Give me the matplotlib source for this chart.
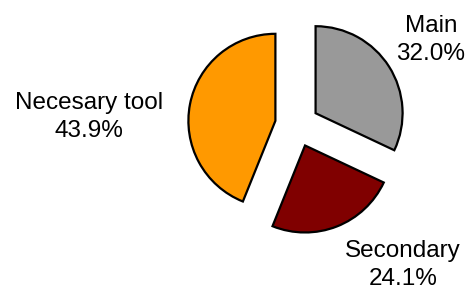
import matplotlib
matplotlib.use("Agg")
import matplotlib.pyplot as plt

categories = ["Main", "Secondary", "Necesary tool"]
values = [32.0, 24.1, 43.9]
colors = ["#999999", "#800000", "#FF9900"]

W, H = 468, 291
fig = plt.figure(figsize=(W / 100, H / 100), dpi=100)
ax = fig.add_axes([0, 0, 1, 1])

cx, cy, r = 297, H - 125, 87
ax.pie(values, colors=colors, startangle=90, counterclock=False,
       explode=[22] * 3, center=(cx, cy), radius=r,
       wedgeprops=dict(edgecolor="black", linewidth=1.6), frame=True)
ax.set_xlim(0, W)
ax.set_ylim(0, H)
ax.set_aspect("auto")
ax.axis("off")

label_pos = [(431, H - 40), (403, H - 265), (89, H - 117)]
for cat, v, (x, y) in zip(categories, values, label_pos):
    ax.text(x, y, f"{cat}\n{v:.1f}%", ha="center", va="center",
            fontsize=17.5, family=["Liberation Sans", "DejaVu Sans"],
            linespacing=1.3, color="black")

fig.savefig("out.png", dpi=100)
